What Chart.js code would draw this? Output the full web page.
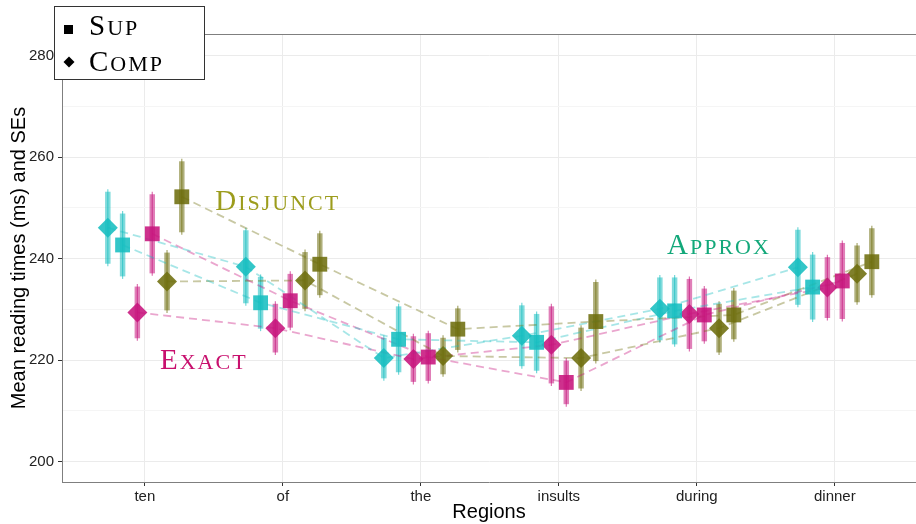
<!DOCTYPE html>
<html>
<head>
<meta charset="utf-8">
<script src="https://cdn.jsdelivr.net/npm/chart.js@4.4.1/dist/chart.umd.min.js"></script>
<style>
  html, body { margin: 0; padding: 0; background: #fff; }
  #wrap { width: 916px; height: 524px; }
</style>
</head>
<body>
<div id="wrap"><canvas id="readingChart" width="916" height="524"></canvas></div>
<script>
// regions on the x axis
const regions = ['ten', 'of', 'the', 'insults', 'during', 'dinner'];
const yTicks = [200, 210, 220, 230, 240, 250, 260, 270, 280];

// mean reading times (ms)
const approxComp   = [246.1, 238.4, 220.4, 224.8, 230.1, 238.3];
const approxSup    = [242.7, 231.3, 224.1, 223.5, 229.7, 234.4];
const exactComp    = [229.4, 226.3, 220.2, 223.0, 229.1, 234.3];
const exactSup     = [244.9, 231.7, 220.6, 215.6, 228.9, 235.6];
const disjunctComp = [235.5, 235.7, 220.8, 220.4, 226.3, 237.0];
const disjunctSup  = [252.2, 238.9, 226.1, 227.6, 228.9, 239.4];

// standard errors (ms)
const approxCompSE   = [7.1, 7.2, 4.0, 6.0, 6.2, 7.4];
const approxSupSE    = [6.2, 5.1, 6.5, 5.6, 6.6, 6.4];
const exactCompSE    = [5.1, 4.8, 4.5, 7.6, 6.9, 6.0];
const exactSupSE     = [7.8, 5.3, 4.7, 4.3, 5.2, 7.5];
const disjunctCompSE = [5.7, 5.6, 3.6, 6.0, 4.8, 5.6];
const disjunctSupSE  = [7.0, 6.1, 4.1, 7.8, 4.8, 6.6];

const legendNames = ['Sup', 'Comp'];

const CYAN = '23,190,192';
const MAGENTA = '199,21,125';
const OLIVE = '110,110,14';
const rgba = (c, a) => `rgba(${c},${a})`;

const series = [
    { mean: approxComp,   se: approxCompSE,   color: CYAN,    shape: 'rectRot', dodge: -0.268 },
    { mean: approxSup,    se: approxSupSE,    color: CYAN,    shape: 'rect',    dodge: -0.161 },
    { mean: exactComp,    se: exactCompSE,    color: MAGENTA, shape: 'rectRot', dodge: -0.054 },
    { mean: exactSup,     se: exactSupSE,     color: MAGENTA, shape: 'rect',    dodge: 0.054 },
    { mean: disjunctComp, se: disjunctCompSE, color: OLIVE,   shape: 'rectRot', dodge: 0.161 },
    { mean: disjunctSup,  se: disjunctSupSE,  color: OLIVE,   shape: 'rect',    dodge: 0.268 }
];

const toPoints = s => s.mean.map((v, i) => ({ x: i + 1 + s.dodge, y: v }));

// dashed connecting lines underneath, markers on top
const lineSets = series.map(s => ({
    data: toPoints(s),
    showLine: true,
    borderColor: rgba(s.color, 0.38),
    borderWidth: 1.8,
    borderDash: [8, 5],
    pointRadius: 0,
    order: 2
}));
const pointSets = series.map(s => ({
    data: toPoints(s),
    showLine: false,
    pointStyle: s.shape,
    pointRadius: s.shape === 'rect' ? 10.5 : 10,
    pointBackgroundColor: rgba(s.color, 0.88),
    pointBorderWidth: 0,
    order: 1
}));

function smallCaps(ctx, word, x, y) {
    ctx.letterSpacing = '2px';
    ctx.font = '29px "Liberation Serif"';
    const first = word[0].toUpperCase();
    ctx.fillText(first, x, y);
    const w = ctx.measureText(first).width;
    ctx.font = '22px "Liberation Serif"';
    ctx.fillText(word.slice(1).toUpperCase(), x + w, y);
    ctx.letterSpacing = '0px';
}

const errorBars = {
    id: 'errorBars',
    beforeDatasetsDraw(chart) {
        const { ctx, scales: { x, y } } = chart;
        ctx.save();
        ctx.lineCap = 'butt';
        series.forEach(s => {
            s.mean.forEach((m, i) => {
                const px = x.getPixelForValue(i + 1 + s.dodge);
                const top = y.getPixelForValue(m + s.se[i]);
                const bot = y.getPixelForValue(m - s.se[i]);
                ctx.strokeStyle = rgba(s.color, 0.55);
                ctx.lineWidth = 5.5;
                ctx.beginPath();
                ctx.moveTo(px, top);
                ctx.lineTo(px, bot);
                ctx.stroke();
                ctx.strokeStyle = rgba(s.color, 0.6);
                ctx.lineWidth = 1.2;
                ctx.beginPath();
                ctx.moveTo(px, top - 2.5);
                ctx.lineTo(px, bot + 2.5);
                ctx.stroke();
            });
        });
        ctx.restore();
    }
};

const overlay = {
    id: 'overlay',
    afterDraw(chart) {
        const { ctx, chartArea, scales: { x, y } } = chart;
        ctx.save();
        // top edge of the panel
        ctx.strokeStyle = '#7f7f7f';
        ctx.lineWidth = 1;
        ctx.beginPath();
        ctx.moveTo(chartArea.left, chartArea.top + 0.5);
        ctx.lineTo(chartArea.right, chartArea.top + 0.5);
        ctx.stroke();

        // condition labels
        ctx.textBaseline = 'alphabetic';
        ctx.textAlign = 'left';
        ctx.fillStyle = '#9c9c1c';
        smallCaps(ctx, 'Disjunct', x.getPixelForValue(1.51), y.getPixelForValue(249.5));
        ctx.fillStyle = '#13a87a';
        smallCaps(ctx, 'Approx', x.getPixelForValue(4.784), y.getPixelForValue(240.9));
        ctx.fillStyle = '#c8106e';
        smallCaps(ctx, 'Exact', x.getPixelForValue(1.11), y.getPixelForValue(218.2));

        // legend box
        ctx.fillStyle = '#fff';
        ctx.fillRect(54, 6, 150, 73);
        ctx.strokeStyle = '#333';
        ctx.strokeRect(54.5, 6.5, 150, 73);
        ctx.fillStyle = '#000';
        ctx.fillRect(64, 25, 9, 9);
        ctx.beginPath();
        ctx.moveTo(69, 56.5);
        ctx.lineTo(74.5, 62);
        ctx.lineTo(69, 67.5);
        ctx.lineTo(63.5, 62);
        ctx.closePath();
        ctx.fill();
        smallCaps(ctx, legendNames[0], 89, 35);
        smallCaps(ctx, legendNames[1], 89, 71);
        ctx.restore();
    }
};

new Chart(document.getElementById('readingChart'), {
    type: 'scatter',
    data: { datasets: [...lineSets, ...pointSets] },
    options: {
        responsive: false,
        animation: false,
        events: [],
        layout: { autoPadding: false, padding: { top: 34, left: 0, right: 0, bottom: 0 } },
        plugins: { legend: { display: false }, tooltip: { enabled: false } },
        scales: {
            x: {
                type: 'linear',
                min: 0.4,
                max: 6.588,
                afterBuildTicks: scale => { scale.ticks = regions.map((r, i) => ({ value: i + 1 })); },
                afterFit: scale => {
                    scale.height = 42;
                    scale.paddingLeft = 0;
                    scale.paddingRight = 0;
                },
                ticks: {
                    autoSkip: false,
                    maxRotation: 0,
                    padding: 2,
                    color: '#222',
                    font: { family: '"Liberation Sans"', size: 15 },
                    callback: v => regions[v - 1]
                },
                grid: { color: '#ebebeb', tickColor: '#333', tickLength: 4 },
                border: { display: true, color: '#7f7f7f', width: 1 },
                title: {
                    display: true,
                    text: 'Regions',
                    color: '#000',
                    font: { family: '"Liberation Sans"', size: 20 },
                    padding: { top: 0, bottom: 0 }
                }
            },
            y: {
                min: 195.96,
                max: 284.3,
                afterBuildTicks: scale => { scale.ticks = yTicks.map(v => ({ value: v })); },
                afterFit: scale => {
                    scale.width = 62;
                    scale.paddingTop = 0;
                    scale.paddingBottom = 0;
                },
                ticks: {
                    autoSkip: false,
                    padding: 4,
                    color: '#222',
                    font: { family: '"Liberation Sans"', size: 15 },
                    callback: v => (v % 20 === 0 ? String(v) : '')
                },
                grid: {
                    color: c => (c.tick && c.tick.value % 20 === 0 ? '#ebebeb' : '#f5f5f5'),
                    tickColor: c => (c.tick && c.tick.value % 20 === 0 ? '#333' : 'rgba(0,0,0,0)'),
                    tickLength: 4
                },
                border: { display: true, color: '#7f7f7f', width: 1 },
                title: {
                    display: true,
                    text: 'Mean reading times (ms) and SEs',
                    color: '#000',
                    font: { family: '"Liberation Sans"', size: 20 },
                    padding: { top: 7, bottom: 0 }
                }
            }
        }
    },
    plugins: [errorBars, overlay]
});
</script>
</body>
</html>
